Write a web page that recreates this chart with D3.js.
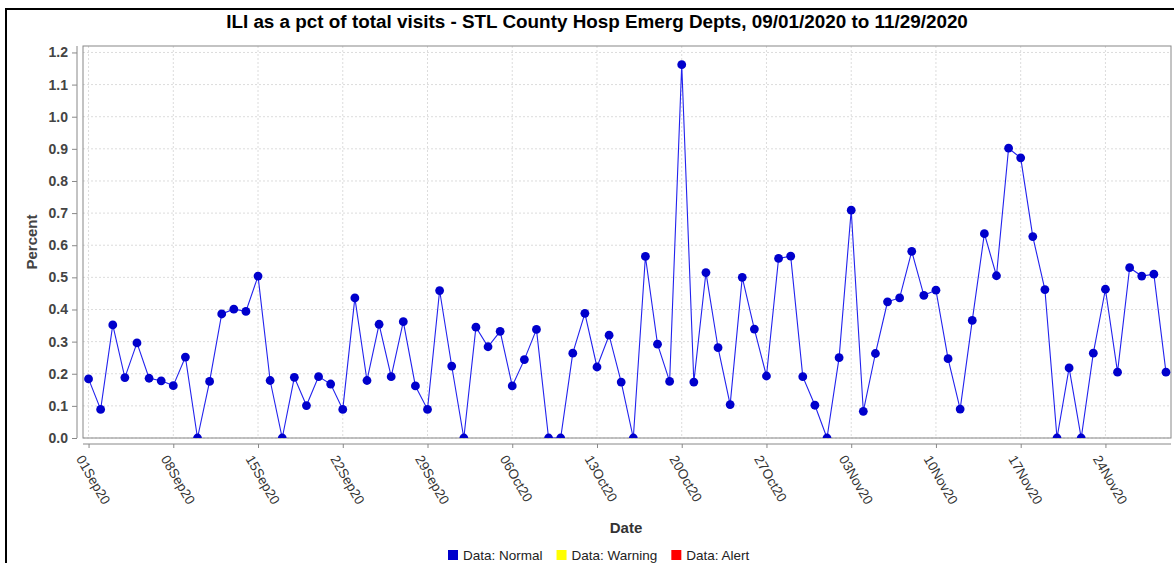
<!DOCTYPE html>
<html>
<head>
<meta charset="utf-8">
<script src="https://cdn.jsdelivr.net/npm/d3@7"></script>
<style>
	body { margin: 0; background: #fff; }
	svg { display: block; }
</style>
</head>
<body>
<div id="chart"></div>
<script>

// data
let startDate = '2020-09-01';
let values = [
	0.184, 0.089, 0.352, 0.188, 0.296, 0.186, 0.178, 0.163, 0.252, 0,
	0.176, 0.386, 0.401, 0.394, 0.504, 0.179, 0, 0.189, 0.101, 0.191,
	0.168, 0.089, 0.436, 0.179, 0.354, 0.191, 0.362, 0.162, 0.089, 0.459,
	0.224, 0, 0.345, 0.284, 0.332, 0.162, 0.244, 0.338, 0, 0,
	0.264, 0.388, 0.221, 0.320, 0.174, 0, 0.565, 0.292, 0.176, 1.162,
	0.174, 0.515, 0.281, 0.104, 0.500, 0.339, 0.193, 0.559, 0.566, 0.191,
	0.102, 0, 0.250, 0.709, 0.083, 0.263, 0.424, 0.436, 0.581, 0.444,
	0.460, 0.247, 0.090, 0.366, 0.636, 0.505, 0.902, 0.872, 0.627, 0.462,
	0, 0.218, 0, 0.264, 0.463, 0.205, 0.530, 0.504, 0.510, 0.205
];
let xTickLabels = ['01Sep20','08Sep20','15Sep20','22Sep20','29Sep20','06Oct20','13Oct20',
	'20Oct20','27Oct20','03Nov20','10Nov20','17Nov20','24Nov20'];
let yTicks = [0, 0.1, 0.2, 0.3, 0.4, 0.5, 0.6, 0.7, 0.8, 0.9, 1.0, 1.1, 1.2];
let legendLabels = ['Data: Normal', 'Data: Warning', 'Data: Alert'];
let legendColors = ['#0000cc', '#ffff00', '#ff0000'];

let title = 'ILI as a pct of total visits - STL County Hosp Emerg Depts, 09/01/2020 to 11/29/2020';

let width = 1174, height = 563;
let plot = {left: 83, top: 46, right: 1171, bottom: 438};

let parseTick = d3.utcParse('%d%b%y');
let day0 = d3.utcParse('%Y-%m-%d')(startDate);
let data = values.map((v, i) => ({date: d3.utcDay.offset(day0, i), value: v}));

let x = d3.scaleUtc()
	.domain([d3.utcHour.offset(day0, -10.5), d3.utcHour.offset(data[data.length-1].date, 10.5)])
	.range([plot.left, plot.right]);
let y = d3.scaleLinear()
	.domain([0, d3.max(values) * 1.05])
	.range([plot.bottom, plot.top]);

let svg = d3.select('#chart').append('svg')
	.attr('width', width)
	.attr('height', height);

// outer chart border (runs off the right / bottom edge)
svg.append('rect')
	.attr('x', 6).attr('y', 9)
	.attr('width', 1190).attr('height', 600)
	.attr('fill', 'none')
	.attr('stroke', '#000')
	.attr('stroke-width', 2);

// title, fitted to the reference width
let t = svg.append('text')
	.attr('x', 597).attr('y', 28)
	.attr('text-anchor', 'middle')
	.style('font', 'bold 17px "Liberation Sans", Arial, sans-serif')
	.attr('fill', '#000')
	.text(title);
let tl = t.node().getComputedTextLength();
t.style('font-size', (17 * 742 / tl) + 'px');

// gridlines
let tickDates = xTickLabels.map(parseTick);
svg.append('g')
	.selectAll('line.h')
	.data(yTicks)
	.join('line')
	.attr('x1', plot.left).attr('x2', plot.right)
	.attr('y1', d => y(d)).attr('y2', d => y(d))
	.attr('stroke', '#dcdcdc')
	.attr('stroke-dasharray', '2,2');
svg.append('g')
	.selectAll('line.v')
	.data(tickDates)
	.join('line')
	.attr('x1', d => x(d)).attr('x2', d => x(d))
	.attr('y1', plot.top).attr('y2', plot.bottom)
	.attr('stroke', '#dcdcdc')
	.attr('stroke-dasharray', '2,2');

// plot frame
svg.append('rect')
	.attr('x', plot.left).attr('y', plot.top)
	.attr('width', plot.right - plot.left).attr('height', plot.bottom - plot.top)
	.attr('fill', 'none')
	.attr('stroke', '#888');

// clip
svg.append('clipPath').attr('id', 'clip')
	.append('rect')
	.attr('x', plot.left).attr('y', plot.top)
	.attr('width', plot.right - plot.left).attr('height', plot.bottom - plot.top);

let g = svg.append('g').attr('clip-path', 'url(#clip)');

let line = d3.line()
	.x(d => x(d.date))
	.y(d => y(d.value));

g.append('path')
	.datum(data)
	.attr('d', line)
	.attr('fill', 'none')
	.attr('stroke', '#2222ee')
	.attr('stroke-width', 1.1);

g.selectAll('circle')
	.data(data)
	.join('circle')
	.attr('cx', d => x(d.date))
	.attr('cy', d => y(d.value))
	.attr('r', 4.4)
	.attr('fill', '#0000cc');

// y axis, offset left of the plot
let yAxis = svg.append('g')
	.attr('transform', `translate(${plot.left - 6},0)`)
	.call(d3.axisLeft(y).tickValues(yTicks).tickFormat(d3.format('.1f')).tickSize(5).tickPadding(4));
yAxis.select('.domain').attr('stroke', '#888').attr('d', `M0,${plot.top}V${plot.bottom}`);
yAxis.selectAll('.tick line').attr('stroke', '#888');
yAxis.selectAll('.tick text')
	.attr('fill', '#444')
	.style('font', 'bold 14px "Liberation Sans", Arial, sans-serif');

// x axis, offset below the plot
let xAxis = svg.append('g')
	.attr('transform', `translate(0,${plot.bottom + 6})`)
	.call(d3.axisBottom(x).tickValues(tickDates).tickFormat((d, i) => xTickLabels[i]).tickSize(4));
xAxis.select('.domain').attr('stroke', '#888').attr('d', `M${plot.left},0H${plot.right}`);
xAxis.selectAll('.tick line').attr('stroke', '#888');
xAxis.selectAll('.tick text')
	.attr('fill', '#333')
	.attr('text-anchor', 'start')
	.attr('dy', null)
	.attr('y', 0)
	.attr('dominant-baseline', 'hanging')
	.attr('transform', 'translate(-5,10) rotate(60)')
	.style('font', '13.5px "Liberation Sans", Arial, sans-serif');

// axis titles
svg.append('text')
	.attr('x', 626).attr('y', 533)
	.attr('text-anchor', 'middle')
	.attr('fill', '#333')
	.style('font', 'bold 15px "Liberation Sans", Arial, sans-serif')
	.text('Date');
svg.append('text')
	.attr('transform', `translate(37,${(plot.top + plot.bottom) / 2}) rotate(-90)`)
	.attr('text-anchor', 'middle')
	.attr('fill', '#444')
	.style('font', 'bold 15px "Liberation Sans", Arial, sans-serif')
	.text('Percent');

// legend
let lg = svg.append('g').attr('transform', 'translate(448,550)');
let lx = 0;
legendLabels.forEach((label, i) => {
	let item = lg.append('g').attr('transform', `translate(${lx},0)`);
	item.append('rect')
		.attr('width', 10).attr('height', 10)
		.attr('fill', legendColors[i]);
	let txt = item.append('text')
		.attr('x', 15).attr('y', 9.5)
		.attr('fill', '#222')
		.style('font', '13.5px "Liberation Sans", Arial, sans-serif')
		.text(label);
	lx += 15 + txt.node().getComputedTextLength() + 14;
});

</script>
</body>
</html>
